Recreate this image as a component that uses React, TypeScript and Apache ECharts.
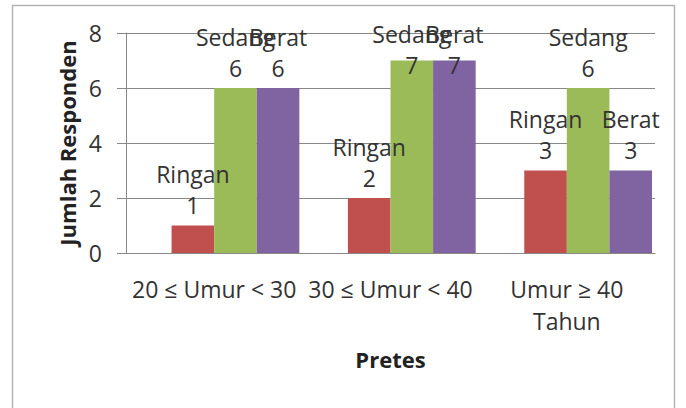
import React, { useEffect, useRef } from "react";
import * as echarts from "echarts";

const categories = ["20 ≤ Umur < 30", "30 ≤ Umur < 40", "Umur ≥ 40\nTahun"];
const seriesNames = ["Ringan", "Sedang", "Berat"];
const ringan = [1, 2, 3];
const sedang = [6, 7, 6];
const berat = [6, 7, 3];
const yTicks = { min: 0, max: 8, interval: 2 };

const colors = ["#c0504d", "#9bbb59", "#8064a2"];
const FONT = "'Open Sans', 'Noto Sans', sans-serif";

export default function App() {
  const ref = useRef<HTMLDivElement>(null);
  useEffect(() => {
    if (!ref.current) return;
    const chart = echarts.init(ref.current, undefined, { renderer: "svg" });
    const values = [ringan, sedang, berat];
    const mkData = (arr: number[]) =>
      arr.map((v) => ({
        value: v,
        // Excel keeps labels inside the plot area: near-top labels are pushed down
        label: v >= 7 ? { offset: [0, 25] } : undefined,
      }));
    const barSeries = seriesNames.map((name, i) => ({
      name,
      type: "bar",
      data: mkData(values[i]),
      barGap: "0%",
      barCategoryGap: "3.4%",
      itemStyle: { color: colors[i] },
      label: {
        show: true,
        position: "top",
        distance: 5,
        formatter: "{a}\n{c}",
        fontSize: 23,
        lineHeight: 31,
        color: "#333",
        fontFamily: FONT,
      },
    }));
    chart.setOption({
      animation: false,
      backgroundColor: "#fff",
      textStyle: { fontFamily: FONT },
      graphic: [
        {
          type: "rect",
          shape: { x: 12.5, y: 5.5, width: 662, height: 420 },
          style: { fill: "none", stroke: "#b4b4b4", lineWidth: 1.5 },
          silent: true,
        },
      ],
      grid: { left: 126, right: 31, top: 33, bottom: 155 },
      xAxis: {
        type: "category",
        data: categories,
        axisTick: { show: false },
        axisLine: { show: true, lineStyle: { color: "#888", width: 1 } },
        axisLabel: {
          interval: 0,
          fontSize: 23,
          lineHeight: 32,
          margin: 20,
          color: "#333",
          fontFamily: FONT,
        },
        name: "Pretes",
        nameLocation: "middle",
        nameGap: 95,
        nameTextStyle: { fontSize: 22, fontWeight: "bold", color: "#222", fontFamily: FONT },
      },
      yAxis: {
        type: "value",
        min: yTicks.min,
        max: yTicks.max,
        interval: yTicks.interval,
        axisLine: { show: true, lineStyle: { color: "#888", width: 1 } },
        axisTick: { show: true, length: 9, lineStyle: { color: "#888" } },
        splitLine: { show: true, lineStyle: { color: "#888", width: 1 } },
        axisLabel: { fontSize: 23, margin: 24, color: "#333", fontFamily: FONT },
        name: "Jumlah Responden",
        nameLocation: "middle",
        nameGap: 45,
        nameTextStyle: { fontSize: 22, fontWeight: "bold", color: "#222", fontFamily: FONT },
      },
      series: [
        {
          name: "_spacer",
          type: "bar",
          data: categories.map(() => "-"),
          barGap: "0%",
          barCategoryGap: "3.4%",
          silent: true,
        },
        ...barSeries,
      ],
    });
    return () => chart.dispose();
  }, []);
  return (
    <div
      ref={ref}
      style={{ position: "fixed", left: 0, top: 0, width: 686, height: 408 }}
    />
  );
}
